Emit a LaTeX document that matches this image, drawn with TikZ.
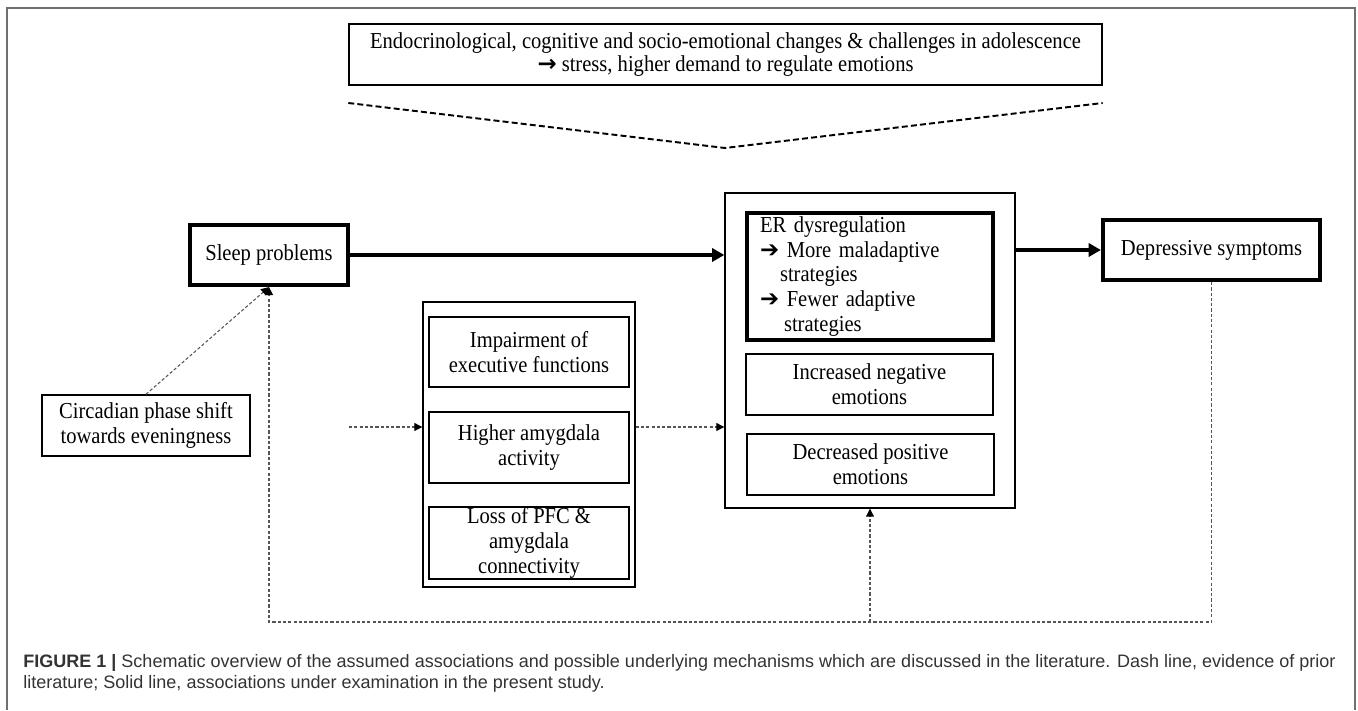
\documentclass[tikz,border=0pt]{standalone}
\usepackage{fontspec}
\setmainfont{Liberation Serif}[FakeStretch=0.9]
\newfontfamily\capfont{Liberation Sans}
\newfontfamily\symfont{DejaVu Sans}
\usetikzlibrary{arrows.meta}
\definecolor{framegray}{HTML}{707070}
\definecolor{linegray}{HTML}{555555}
\definecolor{captext}{HTML}{333333}

\begin{document}
\begin{tikzpicture}
  [thinbox/.style={draw, line width=0.8pt, align=center, inner sep=0},
   boldbox/.style={draw, line width=2.4pt, align=center, inner sep=0},
   mainline/.style={line width=2pt, >={Triangle[length=7pt, width=7.5pt]}, ->},
   priorline/.style={draw=linegray, line width=0.6pt, dash pattern=on 1.8pt off 1.2pt,
                     >={Triangle[length=4.5pt, width=4.5pt, color=black]}, ->},
   font=\fontsize{13}{14.2}\selectfont]

  \useasboundingbox (0, 0) rectangle (27.16, 14.2);

  % frame
  \draw[framegray, line width=1.1pt] (0.14, 0) -- (0.14, 14.04) -- (27.1, 14.04) -- (27.1, 0);

  % adolescence box
  \node[thinbox, minimum width=15.06cm, minimum height=1.22cm,
        font=\fontsize{13}{10.4}\selectfont] (adol) at (14.51, 13.11)
    {Endocrinological, cognitive and socio-emotional changes \& challenges in adolescence\\
     {\symfont\bfseries →} stress, higher demand to regulate emotions};

  % dashed wedge
  \coordinate (vtip) at (14.5, 11.24);
  \draw[line width=1.1pt, dash pattern=on 3.4pt off 1.8pt]
    (adol.west |- 0, 12.14) -- (vtip) -- (adol.east |- 0, 12.14);

  % left side
  \node[boldbox, minimum width=3.16cm, minimum height=1.2cm] (sleep) at (5.38, 9.1) {Sleep problems};
  \node[thinbox, minimum width=4.16cm, minimum height=1.22cm] (circ) at (2.92, 5.69)
    {Circadian phase shift\\towards eveningness};

  % mechanisms
  \node[thinbox, minimum width=4.24cm, minimum height=5.7cm] (mech) at (10.58, 5.31) {};
  \node[thinbox, minimum width=4.0cm, minimum height=1.4cm] (exec) at (10.58, 7.16)
    {Impairment of\\executive functions};
  \node[thinbox, minimum width=4.0cm, minimum height=1.42cm] (amyg) at (10.58, 5.25)
    {Higher amygdala\\activity};
  \node[thinbox, minimum width=4.0cm, minimum height=1.44cm] (pfc) at (10.58, 3.34)
    {Loss of PFC \&\\amygdala\\connectivity};

  % emotion regulation
  \node[thinbox, minimum width=5.8cm, minimum height=6.3cm] (emo) at (17.4, 7.19) {};
  \node[boldbox, minimum width=4.92cm, minimum height=2.54cm, text width=4.4cm, align=left]
    (er) at (17.4, 8.67)
    {ER dysregulation\\
     {\symfont ➔} More maladaptive\\
     \hspace*{0.4cm}strategies\\
     {\symfont ➔} Fewer adaptive\\
     \hspace*{0.48cm}strategies};
  \node[thinbox, minimum width=4.94cm, minimum height=1.22cm] (neg) at (17.39, 6.51)
    {Increased negative\\emotions};
  \node[thinbox, minimum width=4.94cm, minimum height=1.22cm] (pos) at (17.41, 4.91)
    {Decreased positive\\emotions};

  % outcome
  \node[boldbox, minimum width=4.34cm, minimum height=1.2cm] (depr) at (24.23, 9.2)
    {Depressive symptoms};

  % solid lines
  \draw[mainline] (sleep.east) -- (sleep.east -| emo.west);
  \draw[mainline] (emo.east |- depr.west) -- (depr.west);

  % dashed lines
  \coordinate (feed) at (6.98, 5.66);
  \coordinate (loop) at (17.4, 1.76);
  \draw[priorline] (feed) -- (feed -| mech.west);
  \draw[priorline] (mech.east |- feed) -- (emo.west |- feed);
  \draw[priorline] (circ.north) -- (sleep.south);
  \draw[priorline] (depr.south) -- (depr.south |- loop) -- (sleep.south |- loop) -- (sleep.south);
  \draw[priorline] (loop) -- (emo.south);

  % caption
  \node[anchor=north west, align=left, inner sep=0, text=captext,
        font=\capfont\fontsize{10.25}{12.2}\selectfont] (caption) at (0.46, 1.12)
    {\textbf{FIGURE 1 |} Schematic overview of the assumed associations and possible underlying mechanisms which are discussed in the literature. Dash line, evidence of prior\\
     literature; Solid line, associations under examination in the present study.};

\end{tikzpicture}
\end{document}
